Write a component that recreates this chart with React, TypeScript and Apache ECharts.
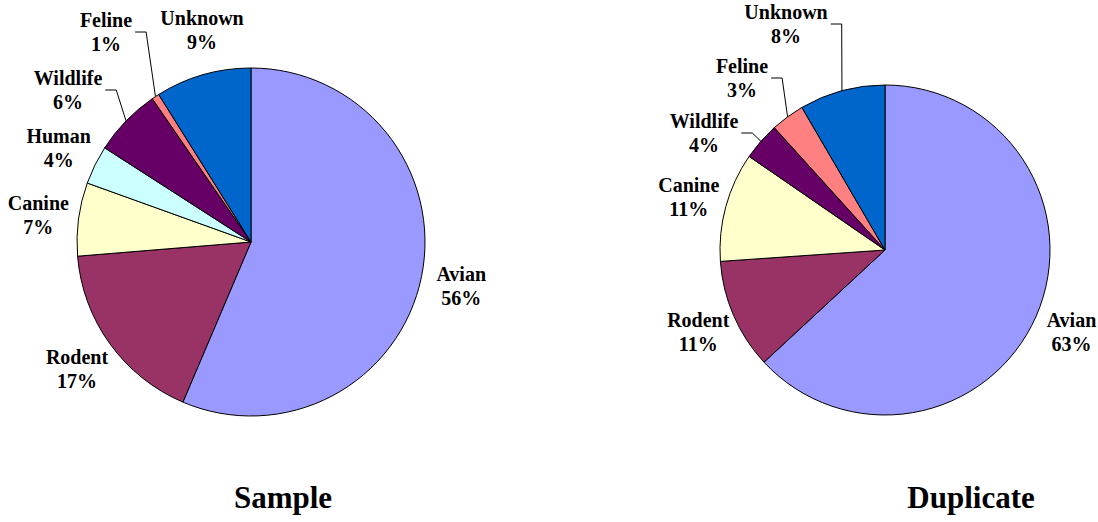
import React, { useEffect, useRef } from "react";
import * as echarts from "echarts";

// ---- data (shares in %; labels show them rounded) ----
const sampleCategories = ["Avian", "Rodent", "Canine", "Human", "Wildlife", "Feline", "Unknown"];
const sampleValues = [56.4, 17.3, 6.8, 3.6, 6.3, 0.7, 8.9];

const duplicateCategories = ["Avian", "Rodent", "Canine", "Wildlife", "Feline", "Unknown"];
const duplicateValues = [63.1, 10.8, 10.7, 3.7, 3.3, 8.4];

const titles = ["Sample", "Duplicate"];

// ---- styles / layout ----
const colorMap: Record<string, string> = {
  Avian: "#9999FF",
  Rodent: "#993366",
  Canine: "#FFFFCC",
  Human: "#CCFFFF",
  Wildlife: "#660066",
  Feline: "#FF8080",
  Unknown: "#0066CC",
};

const FONT = "'Liberation Serif', 'Times New Roman', serif";
const LABEL_DIST = 1.233; // label centre distance as a multiple of radius
const LABEL_SHIFT_Y = 1;

// labels moved by hand: offset of the label centre from the pie centre,
// and whether a leader line joins it to its slice
type Moved = { off: [number, number]; line: boolean };
const sampleMoved: Record<string, Moved> = {
  Wildlife: { off: [-183, -153], line: true },
  Feline: { off: [-145, -211], line: true },
  Unknown: { off: [-49, -213], line: false },
};
const duplicateMoved: Record<string, Moved> = {
  Wildlife: { off: [-181, -118], line: true },
  Feline: { off: [-143, -173], line: true },
  Unknown: { off: [-99, -227], line: true },
};

function buildSeries(
  cats: string[],
  vals: number[],
  moved: Record<string, Moved>,
  cx: number,
  cy: number,
  r: number
) {
  const total = vals.reduce((a, b) => a + b, 0);
  const midAngle = (i: number) => {
    let before = 0;
    for (let k = 0; k < i; k++) before += vals[k];
    return ((before + vals[i] / 2) / total) * Math.PI * 2;
  };
  return {
    type: "pie",
    center: [cx, cy],
    radius: r,
    startAngle: 90,
    clockwise: true,
    avoidLabelOverlap: false,
    itemStyle: { borderColor: "#000", borderWidth: 1 },
    label: {
      show: true,
      position: "outside",
      formatter: (p: any) => `${p.name}\n${Math.round((p.value / total) * 100)}%`,
      fontFamily: FONT,
      fontWeight: "bold",
      fontSize: 20,
      lineHeight: 24,
      color: "#000",
    },
    labelLine: {
      length: 10,
      length2: 10,
      lineStyle: { color: "#000", width: 1 },
    },
    labelLayout: (params: any) => {
      const i = params.dataIndex;
      const a = midAngle(i);
      const dx = Math.sin(a);
      const dy = -Math.cos(a);
      const m = moved[cats[i]];
      if (!m) {
        return {
          x: cx + dx * r * LABEL_DIST,
          y: cy + dy * r * LABEL_DIST + LABEL_SHIFT_Y,
          align: "center",
          verticalAlign: "middle",
        };
      }
      const lx = cx + m.off[0];
      const ly = cy + m.off[1] + LABEL_SHIFT_Y;
      const res: any = { x: lx, y: ly, align: "center", verticalAlign: "middle" };
      if (m.line) {
        const endX = lx + params.labelRect.width / 2 + 3;
        res.labelLinePoints = [
          [cx + dx * r, cy + dy * r],
          [endX + 11, ly],
          [endX, ly],
        ];
      }
      return res;
    },
    emphasis: { disabled: true },
    data: cats.map((c, i) => ({
      name: c,
      value: vals[i],
      itemStyle: { color: colorMap[c] },
      labelLine: { show: !!(moved[c] && moved[c].line) },
    })),
  };
}

export default function App() {
  const ref = useRef<HTMLDivElement>(null);
  useEffect(() => {
    if (!ref.current) return;
    const chart = echarts.init(ref.current, null, { renderer: "svg" });
    const titleStyle = { fontFamily: FONT, fontWeight: "bold", fontSize: 31, lineHeight: 31, color: "#000" };
    chart.setOption({
      animation: false,
      backgroundColor: "#fff",
      title: [
        { text: titles[0], left: 283, top: 482, textAlign: "center", padding: 0, textStyle: titleStyle },
        { text: titles[1], left: 971, top: 482, textAlign: "center", padding: 0, textStyle: titleStyle },
      ],
      series: [
        buildSeries(sampleCategories, sampleValues, sampleMoved, 251, 242, 174),
        buildSeries(duplicateCategories, duplicateValues, duplicateMoved, 885, 250, 165),
      ],
    });
    return () => chart.dispose();
  }, []);
  return <div ref={ref} style={{ position: "fixed", left: 0, top: 0, width: 1098, height: 522 }} />;
}
